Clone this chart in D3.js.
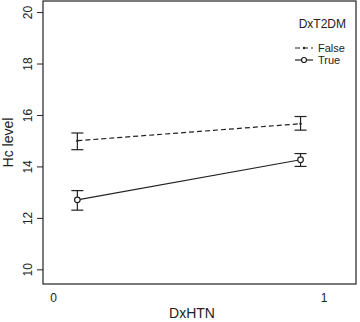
<!DOCTYPE html>
<html>
<head>
<meta charset="utf-8">
<script src="https://cdn.jsdelivr.net/npm/d3@7"></script>
<style>
  body { margin: 0; background: #fff; }
  text { font-family: "Liberation Sans", Arial, sans-serif; fill: #222; }
</style>
</head>
<body>
<div id="chart"></div>
<script>
const width = 360, height = 322;
const margin = {top: 1, right: 4, bottom: 38, left: 43};

// data
const groups = ["False", "True"];
const xPos = [0.09, 0.915];
const meanFalse = [15.0, 15.66];
const lowFalse = [14.65, 15.41];
const highFalse = [15.3, 15.94];
const meanTrue = [12.7, 14.26];
const lowTrue = [12.3, 14.0];
const highTrue = [13.06, 14.5];
const yTicks = [10, 12, 14, 16, 18, 20];
const xTicks = [0, 1];

const series = [
  {key: "False", mean: meanFalse, low: lowFalse, high: highFalse, dash: "5,3"},
  {key: "True", mean: meanTrue, low: lowTrue, high: highTrue, dash: null}
];

const svg = d3.select("#chart").append("svg")
  .attr("width", width).attr("height", height);

const innerW = width - margin.left - margin.right;
const innerH = height - margin.top - margin.bottom;

const xScale = d3.scaleLinear().domain([-0.037, 1.12]).range([0, innerW]);
const yScale = d3.scaleLinear().domain([9.43, 20.43]).range([innerH, 0]);

const inner = svg.append("g")
  .attr("transform", `translate(${margin.left}, ${margin.top})`);

// y axis: ticks from d3, labels rotated like R
const leftAxis = d3.axisLeft(yScale).tickValues(yTicks).tickSize(6).tickFormat("");
const yAxis = inner.append("g").call(leftAxis);
yAxis.select(".domain").remove();
yAxis.selectAll(".tick line").attr("stroke", "#222");
yAxis.selectAll(".tick")
  .append("text")
    .attr("transform", "translate(-11, 0) rotate(-90)")
    .attr("text-anchor", "middle")
    .attr("fill", "#222")
    .style("font-size", "12px")
    .style("font-family", "Liberation Sans, Arial, sans-serif")
    .text(d => d);

// x axis labels (no tick marks)
const bottomAxis = d3.axisBottom(xScale).tickValues(xTicks).tickSize(0).tickPadding(9).tickFormat(d3.format("d"));
const xAxis = inner.append("g").attr("transform", `translate(0, ${innerH})`).call(bottomAxis);
xAxis.select(".domain").remove();
xAxis.selectAll(".tick text")
  .attr("fill", "#222")
  .style("font-size", "12px")
  .style("font-family", "Liberation Sans, Arial, sans-serif");

// frame
inner.append("rect")
  .attr("x", 0).attr("y", 0)
  .attr("width", innerW).attr("height", innerH)
  .attr("fill", "none").attr("stroke", "#222").attr("stroke-width", 1.2);

// lines
const line = d3.line()
  .x((d, i) => xScale(xPos[i]))
  .y(d => yScale(d));

inner.selectAll(".series-line")
  .data(series)
  .join("path")
  .attr("class", "series-line")
  .attr("d", d => line(d.mean))
  .attr("fill", "none")
  .attr("stroke", "#222")
  .attr("stroke-width", 1.2)
  .attr("stroke-dasharray", d => d.dash);

// error bars
const capHalf = 6;
series.forEach(s => {
  const g = inner.append("g");
  xPos.forEach((xv, i) => {
    const cx = xScale(xv);
    g.append("line")
      .attr("x1", cx).attr("x2", cx)
      .attr("y1", yScale(s.low[i])).attr("y2", yScale(s.high[i]))
      .attr("stroke", "#222").attr("stroke-width", 1.2);
    [s.low[i], s.high[i]].forEach(v => {
      g.append("line")
        .attr("x1", cx - capHalf).attr("x2", cx + capHalf)
        .attr("y1", yScale(v)).attr("y2", yScale(v))
        .attr("stroke", "#222").attr("stroke-width", 1.2);
    });
    if (s.key === "True") {
      g.append("circle")
        .attr("cx", cx).attr("cy", yScale(s.mean[i])).attr("r", 2.8)
        .attr("fill", "#fff").attr("stroke", "#222").attr("stroke-width", 1.2);
    } else {
      g.append("circle")
        .attr("cx", cx).attr("cy", yScale(s.mean[i])).attr("r", 1.2)
        .attr("fill", "#222");
    }
  });
});

// axis titles
svg.append("text")
  .attr("transform", `translate(13, ${margin.top + innerH / 2}) rotate(-90)`)
  .attr("text-anchor", "middle")
  .style("font-size", "14px")
  .text("Hc level");

svg.append("text")
  .attr("x", 192).attr("y", 318)
  .attr("text-anchor", "middle")
  .style("font-size", "14px")
  .text("DxHTN");

// legend
const legend = svg.append("g");
legend.append("text")
  .attr("x", 346).attr("y", 28)
  .attr("text-anchor", "end")
  .style("font-size", "12px")
  .text("DxT2DM");

groups.forEach((gname, i) => {
  const ly = 48 + i * 12;
  legend.append("line")
    .attr("x1", 295).attr("x2", 313)
    .attr("y1", ly).attr("y2", ly)
    .attr("stroke", "#222").attr("stroke-width", 1.2)
    .attr("stroke-dasharray", series[i].dash);
  if (gname === "True") {
    legend.append("circle")
      .attr("cx", 304).attr("cy", ly).attr("r", 2.5)
      .attr("fill", "#fff").attr("stroke", "#222").attr("stroke-width", 1.2);
  } else {
    legend.append("circle")
      .attr("cx", 304).attr("cy", ly).attr("r", 1.2).attr("fill", "#222");
  }
  legend.append("text")
    .attr("x", 318).attr("y", ly + 4)
    .style("font-size", "11px")
    .text(gname);
});
</script>
</body>
</html>
